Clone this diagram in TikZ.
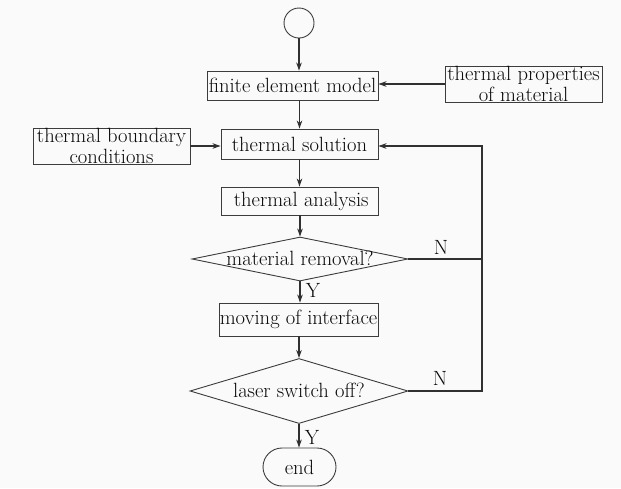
\documentclass[tikz,border=0pt]{standalone}
\usetikzlibrary{arrows.meta,shapes.geometric,shapes.misc}
\definecolor{bgc}{RGB}{250,250,250}
\definecolor{linec}{RGB}{60,60,60}
\definecolor{textc}{RGB}{10,10,10}
\begin{document}
\begin{tikzpicture}[x=1pt,y=-1pt,
  every node/.style={text=textc,font=\fontsize{20.6}{20.5}\selectfont},
  box/.style={draw=linec,line width=0.9pt,rectangle,inner sep=0pt,align=center},
  dia/.style={draw=linec,line width=0.9pt,diamond,inner sep=0pt},
  conn/.style={draw=linec!80!black,line width=1.1pt},
  arr/.style={conn,-{Stealth[length=8pt,width=5.5pt]}},
  lbl/.style={inner sep=0pt}]
\fill[bgc] (0,0) rectangle (621,488);
\useasboundingbox (0,0) rectangle (621,488);
% nodes
\node[draw=linec,line width=0.9pt,circle,minimum size=30pt,inner sep=0pt] (start) at (299,23) {};
\node[box,minimum width=171pt,minimum height=29pt] (fem) at (292.5,85.5) {finite element model};
\node[box,minimum width=157pt,minimum height=36pt] (props) at (523.5,84) {thermal properties\\of material};
\node[box,minimum width=157pt,minimum height=36pt] (bc) at (111.5,146) {thermal boundary\\conditions};
\node[box,minimum width=157pt,minimum height=30pt] (sol) at (299.5,144) {thermal solution};
\node[box,minimum width=157pt,minimum height=28pt] (ana) at (299.5,201) {\,thermal analysis};
\node[dia,minimum width=216pt,minimum height=44pt] (mr) at (300,259) {};
\node[lbl] (mrt) at (300,258) {material removal?};
\node[box,minimum width=159pt,minimum height=33pt] (mov) at (298.5,319.5) {moving of interface};
\node[dia,minimum width=218pt,minimum height=65pt] (lso) at (299,391) {};
\node[lbl] (lsot) at (299,390) {laser switch off?};
\node[draw=linec,line width=0.9pt,rounded rectangle,minimum width=73pt,minimum height=38pt,inner sep=0pt] (end) at (299.5,467) {end};
% labels
\node[lbl] (n1) at (441,247) {N};
\node[lbl] (n2) at (440,378) {N};
\node[lbl] (y1) at (313,290) {Y};
\node[lbl] (y2) at (312,437) {Y};
\coordinate (fbtop) at (482,146);
\coordinate (fbbot) at (482,391);
% connectors
\draw[arr] (start.south) -- (start.south |- fem.north);
\draw[arr] (props.west) -- (props.west -| fem.east);
\draw[arr] (sol.north |- fem.south) -- (sol.north);
\draw[arr] (bc.east) -- (bc.east -| sol.west);
\draw[arr] (sol.south) -- (ana.north);
\draw[arr] (ana.south -| mr.north) -- (mr.north);
\draw[arr] (mr.south) -- (mr.south |- mov.north);
\draw[arr] (lso.north |- mov.south) -- (lso.north);
\draw[arr] (lso.south) -- (lso.south |- end.north);
\draw[conn] (mr.east) -- (mr.east -| fbtop);
\draw[arr] (lso.east) -- (fbbot) -- (fbtop) -- (fbtop -| sol.east);
\end{tikzpicture}
\end{document}
